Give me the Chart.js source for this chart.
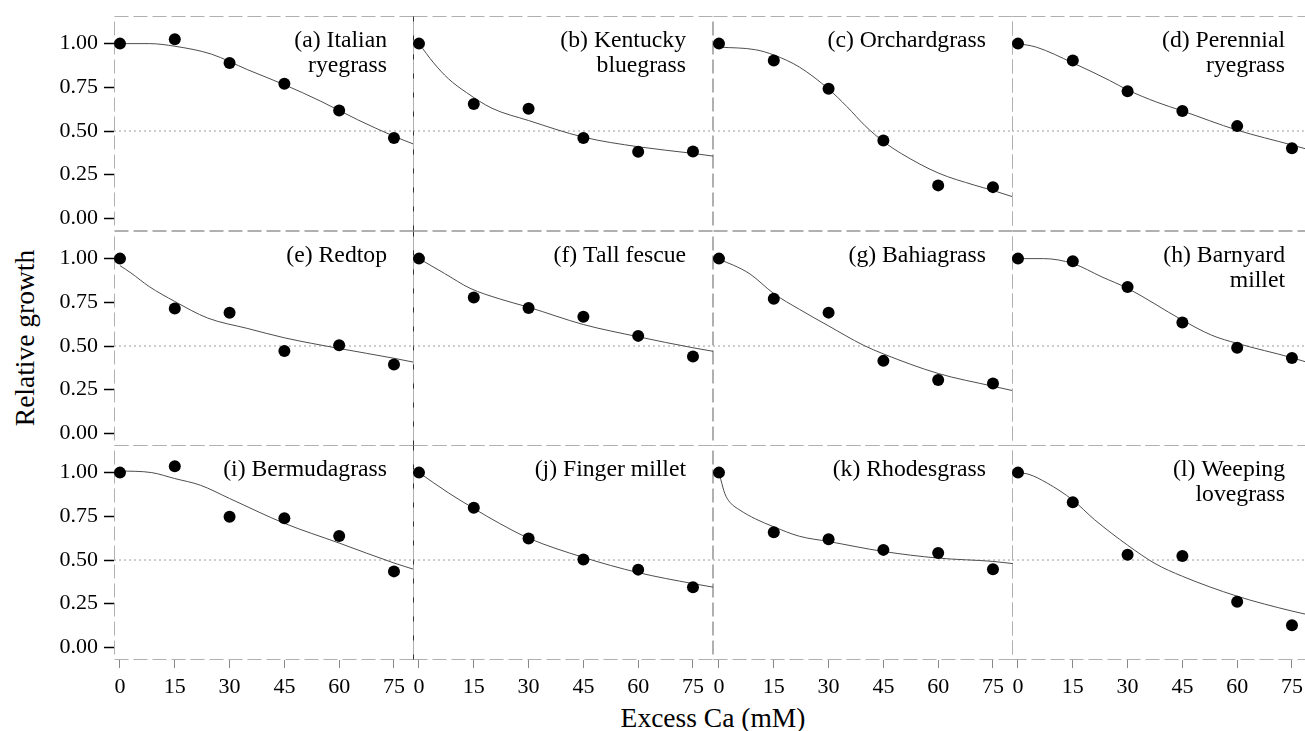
<!DOCTYPE html>
<html>
<head>
<meta charset="utf-8">
<script src="https://cdn.jsdelivr.net/npm/chart.js@4.4.1/dist/chart.umd.min.js"></script>
<style>
  body { margin: 0; background: #fff; }
  #fig { position: relative; width: 1305px; height: 731px; overflow: hidden; background: #fff;
         font-family: 'Liberation Serif', 'Times New Roman', serif; }
  #fig canvas { position: absolute; }
  .ttl { position: absolute; font-size: 27.5px; color: #000; white-space: nowrap; }
  #ytitle { left: 25px; top: 338px; transform: translate(-50%, -50%) rotate(-90deg); }
  #xtitle { left: 713px; top: 718px; transform: translate(-50%, -50%); }
</style>
</head>
<body>
<div id="fig">
  <div class="ttl" id="ytitle">Relative growth</div>
  <div class="ttl" id="xtitle">Excess Ca (mM)</div>
</div>
<script>
// Ca doses (mM) and y tick values
const doses = [0, 15, 30, 45, 60, 75];
const yTicks = [0, 0.25, 0.5, 0.75, 1];

const panelNames = [
  ['(a) Italian', 'ryegrass'], ['(b) Kentucky', 'bluegrass'], ['(c) Orchardgrass'], ['(d) Perennial', 'ryegrass'],
  ['(e) Redtop'], ['(f) Tall fescue'], ['(g) Bahiagrass'], ['(h) Barnyard', 'millet'],
  ['(i) Bermudagrass'], ['(j) Finger millet'], ['(k) Rhodesgrass'], ['(l) Weeping', 'lovegrass']
];

// measured relative growth at each dose
const obsA = [1.00, 1.025, 0.889, 0.771, 0.618, 0.460];
const obsB = [1.00, 0.654, 0.628, 0.460, 0.382, 0.383];
const obsC = [1.00, 0.903, 0.742, 0.446, 0.189, 0.179];
const obsD = [1.00, 0.903, 0.727, 0.614, 0.528, 0.402];
const obsE = [1.00, 0.714, 0.690, 0.471, 0.505, 0.394];
const obsF = [1.00, 0.777, 0.718, 0.667, 0.558, 0.440];
const obsG = [1.00, 0.771, 0.691, 0.415, 0.305, 0.286];
const obsH = [1.00, 0.985, 0.838, 0.634, 0.490, 0.431];
const obsI = [1.00, 1.036, 0.748, 0.739, 0.638, 0.435];
const obsJ = [1.00, 0.799, 0.623, 0.503, 0.445, 0.344];
const obsK = [1.00, 0.659, 0.619, 0.558, 0.540, 0.447];
const obsL = [1.00, 0.830, 0.530, 0.523, 0.261, 0.127];

// fitted curves as [dose, growth]
const fitA = [[0,1.00],[8,1.00],[15,0.985],[25,0.94],[35,0.85],[45,0.765],[55,0.67],[65,0.565],[75,0.47],[81,0.42]];
const fitB = [[0,1.00],[4,0.89],[8,0.80],[13,0.72],[20,0.63],[30,0.56],[45,0.465],[60,0.41],[75,0.372],[81,0.355]];
const fitC = [[0,0.98],[10,0.965],[15,0.935],[22,0.866],[30,0.74],[35,0.64],[40,0.53],[45,0.44],[50,0.37],[60,0.26],[70,0.19],[75,0.16],[81,0.12]];
const fitD = [[0,1.00],[5,0.98],[15,0.89],[25,0.79],[30,0.735],[38,0.665],[45,0.615],[60,0.505],[75,0.42],[81,0.385]];
const fitE = [[0,0.96],[3,0.918],[8,0.84],[15,0.755],[24,0.66],[35,0.60],[45,0.547],[60,0.486],[75,0.43],[81,0.405]];
const fitF = [[0,1.00],[7,0.915],[14,0.83],[22,0.77],[30,0.722],[45,0.623],[60,0.553],[75,0.49],[81,0.468]];
const fitG = [[0,0.995],[4,0.962],[8.5,0.912],[15,0.80],[22,0.71],[30,0.615],[39.5,0.505],[45,0.455],[60,0.343],[75,0.27],[81,0.242]];
const fitH = [[0,1.00],[7,1.00],[15,0.972],[23,0.895],[30,0.83],[45,0.648],[53,0.562],[60,0.515],[75,0.433],[81,0.395]];
const fitI = [[0,1.01],[8.7,1.00],[15,0.966],[22,0.928],[30,0.852],[45,0.71],[60,0.597],[75,0.483],[81,0.443]];
const fitJ = [[0,1.00],[8,0.885],[15,0.795],[22,0.71],[30,0.625],[45,0.515],[60,0.428],[75,0.365],[81,0.343]];
const fitK = [[0,1.00],[0.5,0.96],[1.6,0.88],[3,0.83],[5.7,0.786],[10,0.735],[15,0.69],[22,0.636],[30,0.606],[45,0.549],[60,0.511],[75,0.492],[81,0.478]];
const fitL = [[0,1.00],[3,0.99],[8,0.94],[15,0.843],[21,0.73],[30,0.585],[37.5,0.48],[45,0.407],[60,0.293],[75,0.208],[81,0.18]];

const observed = [obsA, obsB, obsC, obsD, obsE, obsF, obsG, obsH, obsI, obsJ, obsK, obsL];
const fitted = [fitA, fitB, fitC, fitD, fitE, fitF, fitG, fitH, fitI, fitJ, fitK, fitL];

// panel grid
const PLOT_W = 300, PLOT_H = 215, Y_AXIS_W = 114, X_AXIS_H = 45;
const colLeft = [114, 413, 713, 1012];
const rowTop = [16, 231, 445];
const X_MIN = -1.64, X_MAX = X_MIN + PLOT_W / 3.653;
const Y_MIN = -0.072, Y_MAX = 1.158;
const FONT = "'Liberation Serif', 'Times New Roman', serif";

// frame + panel name
const panelDecor = {
  id: 'panelDecor',
  beforeDatasetsDraw(chart, args, opts) {
    const a = chart.chartArea, ctx = chart.ctx;
    ctx.save();
    ctx.strokeStyle = '#b0b0b0';
    ctx.lineWidth = 1;
    ctx.setLineDash([14, 5]);
    ctx.strokeRect(a.left + 0.5, a.top + 0.5, a.right - a.left - 1, a.bottom - a.top - 1);
    if (opts.darkRight) {
      ctx.setLineDash([]);
      ctx.strokeStyle = '#333';
      ctx.beginPath();
      ctx.moveTo(a.right - 0.5, a.top);
      ctx.lineTo(a.right - 0.5, a.bottom);
      ctx.stroke();
    }
    ctx.restore();
  },
  afterDatasetsDraw(chart, args, opts) {
    const a = chart.chartArea, ctx = chart.ctx;
    ctx.save();
    ctx.fillStyle = '#000';
    ctx.font = '23.7px ' + FONT;
    ctx.textAlign = 'right';
    ctx.textBaseline = 'alphabetic';
    opts.lines.forEach((t, k) => ctx.fillText(t, a.right - 27, a.top + 31 + k * 25));
    ctx.restore();
  }
};

const fig = document.getElementById('fig');

function makePanel(i) {
  const r = Math.floor(i / 4), c = i % 4;
  const showY = c === 0, showX = r === 2;
  const cv = document.createElement('canvas');
  cv.width = PLOT_W + (showY ? Y_AXIS_W : 0);
  cv.height = PLOT_H + (showX ? X_AXIS_H : 0);
  cv.style.left = (showY ? 0 : colLeft[c]) + 'px';
  cv.style.top = rowTop[r] + 'px';
  fig.appendChild(cv);

  new Chart(cv, {
    type: 'scatter',
    data: {
      datasets: [
        { data: observed[i].map((y, k) => ({ x: doses[k], y: y })), showLine: false,
          pointRadius: 6, backgroundColor: '#000', borderColor: '#000', borderWidth: 0 },
        { data: fitted[i].map(p => ({ x: p[0], y: p[1] })), showLine: true, pointRadius: 0,
          borderColor: '#4d4d4d', borderWidth: 1, cubicInterpolationMode: 'monotone' },
        { data: [{ x: X_MIN, y: 0.5 }, { x: X_MAX, y: 0.5 }], showLine: true, pointRadius: 0,
          borderColor: '#9a9a9a', borderWidth: 1, borderDash: [2, 3] }
      ]
    },
    options: {
      responsive: false,
      animation: false,
      events: [],
      layout: { padding: 0, autoPadding: false },
      plugins: {
        legend: { display: false },
        tooltip: { enabled: false },
        panelDecor: { lines: panelNames[i], darkRight: c === 0 }
      },
      scales: {
        x: {
          type: 'linear', min: X_MIN, max: X_MAX, display: showX,
          afterBuildTicks: s => { s.ticks = doses.map(v => ({ value: v })); },
          afterFit: s => {
            if (!showX) return;
            s.height = X_AXIS_H; s.paddingLeft = 0; s.paddingRight = 0;
          },
          ticks: { font: { family: FONT, size: 22 }, color: '#000', padding: 6,
                   autoSkip: false, maxRotation: 0, callback: v => String(v) },
          grid: { drawOnChartArea: false, drawTicks: true, tickLength: 8, tickColor: '#888', tickWidth: 1 },
          border: { display: false }
        },
        y: {
          type: 'linear', min: Y_MIN, max: Y_MAX, display: showY,
          afterBuildTicks: s => { s.ticks = yTicks.map(v => ({ value: v })); },
          afterFit: s => {
            if (!showY) return;
            s.width = Y_AXIS_W; s.paddingTop = 0; s.paddingBottom = 0;
          },
          ticks: { font: { family: FONT, size: 22 }, color: '#000', padding: 6,
                   callback: v => v.toFixed(2) },
          grid: { drawOnChartArea: false, drawTicks: true, tickLength: 10, tickColor: '#000', tickWidth: 1.5 },
          border: { display: false }
        }
      }
    },
    plugins: [panelDecor]
  });
}

for (let i = 0; i < 12; i++) makePanel(i);
</script>
</body>
</html>
